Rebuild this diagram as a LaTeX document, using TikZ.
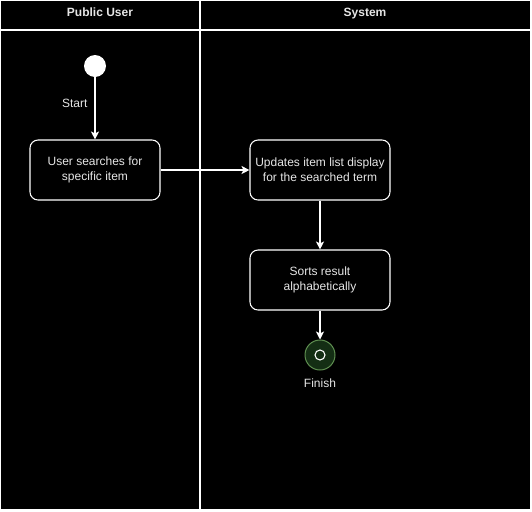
\documentclass[tikz,border=0pt]{standalone}
\usepackage{fontspec}
\setmainfont{Liberation Sans}
\usetikzlibrary{arrows.meta, positioning}
\definecolor{txtgray}{HTML}{E6E6E6}
\definecolor{finfill}{HTML}{142E14}
\definecolor{finline}{HTML}{5E8E50}
\tikzset{
    lane/.style={draw=white, line width=0.8pt},
    header/.style={text=txtgray, font=\fontsize{9pt}{11pt}\selectfont\bfseries, anchor=base},
    activity/.style={draw=white, line width=0.8pt, rounded corners=6pt, fill=black, text=txtgray,
        minimum width=130*0.75pt, minimum height=60*0.75pt, align=center, inner sep=0pt},
    flow/.style={draw=white, line width=0.8pt, -{Stealth[length=6pt, width=6pt, inset=1.5pt]}},
    lbl/.style={text=txtgray}
}
\begin{document}
\begin{tikzpicture}[x=0.75pt, y=-0.75pt, font=\fontsize{9pt}{11pt}\selectfont]
        \useasboundingbox (0,0) rectangle (532,511);
        \fill[black] (0,0) rectangle (532,511);

        % Swimlanes
        \draw[lane] (0.5,0.5) rectangle (531,510);
        \draw[lane] (0.5,30) -- (531,30);
        \draw[lane] (200,0.5) -- (200,510);
        \node[header] (laneuser) at (100,16) {Public User};
        \node[header] (lanesys) at (365,16) {System};

        % Start node
        \node[circle, fill=white, minimum size=22*0.75pt, inner sep=0pt] (start) at (95,66) {};

        % Activities
        \node[activity] (search) at (95,170) {User searches for\\specific item};
        \node[activity, minimum width=140*0.75pt] (update) at (320,170) {Updates item list display\\for the searched term};
        \node[activity, minimum width=140*0.75pt] (sort) at (320,280) {Sorts result\\alphabetically};

        % Final node
        \node[circle, draw=finline, fill=finfill, line width=0.75pt, minimum size=30*0.75pt, inner sep=0pt] (finish) at (320,355) {};
        \node[circle, draw=white, line width=0.8pt, minimum size=10*0.75pt, inner sep=0pt] (finishdot) at (finish.center) {};
        \node[lbl, below=3pt of finish] (finishlbl) {Finish};

        % Connections
        \draw[flow] (start) -- node[lbl, left=2pt, pos=0.42] (startlbl) {Start} (search);
        \draw[flow] (search) -- (update);
        \draw[flow] (update) -- (sort);
        \draw[flow] (sort) -- (finish);

    \end{tikzpicture}
\end{document}
